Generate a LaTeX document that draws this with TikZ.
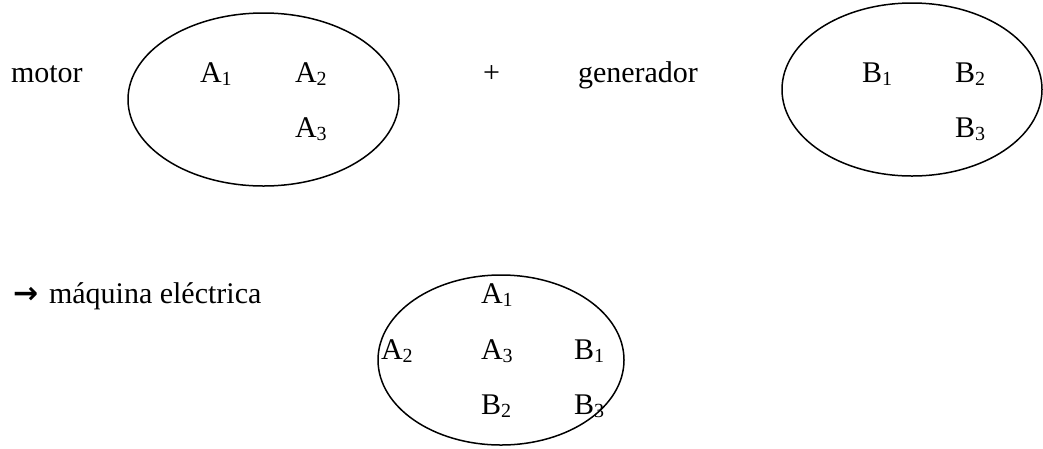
\documentclass[tikz,border=0pt]{standalone}
\usepackage{fontspec}
\setmainfont{Liberation Serif}
\newfontfamily\symfont{DejaVu Sans}
\usetikzlibrary{shapes.geometric}
\newcommand\sbx[1]{\raisebox{-0.1em}{\fontsize{20}{20}\selectfont #1}}
\begin{document}
\begin{tikzpicture}[x=1pt,y=-1pt,
  lbl/.style={inner sep=0pt, outer sep=0pt, anchor=base west, font=\fontsize{30}{36}\selectfont},
  setshape/.style={draw, ellipse, line width=1.5pt, inner sep=0pt, outer sep=0pt}]
\useasboundingbox (0,0) rectangle (1043,448);
% top left set
\node[lbl] (motor) at (11,82) {motor};
\node[setshape, minimum width=271pt, minimum height=173pt] (e1) at (263.5,99.5) {};
\node[lbl] (a1) at (200,82) {A\sbx{1}};
\node[lbl] (a2) at (295,82) {A\sbx{2}};
\node[lbl] (a3) at (295,137) {A\sbx{3}};
% plus
\node[lbl] (plus) at (483,82) {+};
% top right set
\node[lbl] (gen) at (578,82) {generador};
\node[setshape, minimum width=260pt, minimum height=173pt] (e2) at (912,89.5) {};
\node[lbl] (b1) at (862,82) {B\sbx{1}};
\node[lbl] (b2) at (955,82) {B\sbx{2}};
\node[lbl] (b3) at (955,137) {B\sbx{3}};
% bottom
\node[lbl] (arr) at (13,303) {\symfont\bfseries →};
\node[lbl] (maq) at (49,303) {máquina eléctrica};
\node[setshape, minimum width=246pt, minimum height=170pt] (e3) at (501,360) {};
\node[lbl] (c1) at (481,303) {A\sbx{1}};
\node[lbl] (c2) at (381,359) {A\sbx{2}};
\node[lbl] (c3) at (481,359) {A\sbx{3}};
\node[lbl] (c4) at (574,359) {B\sbx{1}};
\node[lbl] (c5) at (481,414) {B\sbx{2}};
\node[lbl] (c6) at (574,414) {B\sbx{3}};
\end{tikzpicture}
\end{document}
